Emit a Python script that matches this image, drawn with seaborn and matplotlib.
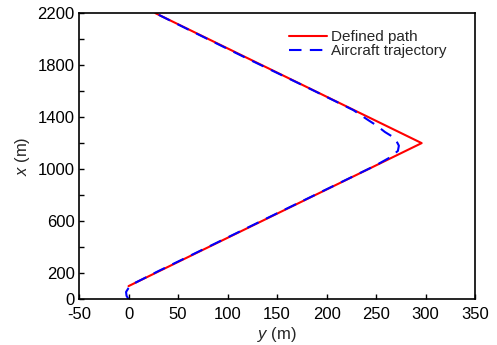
import matplotlib
matplotlib.use("Agg")
import matplotlib.pyplot as plt
import seaborn as sns
import pandas as pd

# Defined path (y horizontal, x vertical)
path_y = [0, 296, 27]
path_x = [100, 1200, 2200]

# Aircraft trajectory
traj_y = [0, -2, -2.5, 0, 4, 30, 80, 150, 200, 250, 264, 272, 273, 269, 259, 250, 242, 227, 180, 120, 60, 27]
traj_x = [0, 25, 55, 85, 115, 215, 400, 660, 845, 1030, 1090, 1140, 1180, 1238, 1285, 1338, 1377, 1454, 1630, 1850, 2075, 2200]

xticks = [-50, 0, 50, 100, 150, 200, 250, 300, 350]
yticks = list(range(0, 2201, 200))
ylabels_shown = [0, 200, 600, 1000, 1400, 1800, 2200]

sns.set_style("ticks")
plt.rcParams['font.family'] = ['Liberation Sans', 'DejaVu Sans']
plt.rcParams['mathtext.fontset'] = 'custom'
plt.rcParams['mathtext.it'] = 'Liberation Sans:italic'
plt.rcParams['mathtext.rm'] = 'Liberation Sans'

fig = plt.figure(figsize=(4.97, 3.45), dpi=100)
ax = fig.add_axes([0.159, 0.133, 0.797, 0.829])

df_path = pd.DataFrame({"y": path_y, "x": path_x})
df_traj = pd.DataFrame({"y": traj_y, "x": traj_x})

sns.lineplot(data=df_path, x="y", y="x", sort=False, estimator=None, color="red", lw=1.5,
             ax=ax, label="Defined path")
sns.lineplot(data=df_traj, x="y", y="x", sort=False, estimator=None, color="blue", lw=1.5,
             ax=ax, label="Aircraft trajectory")
ax.lines[1].set_dashes([6, 4])

ax.set_xlim(-50, 350)
ax.set_ylim(0, 2200)
ax.set_xticks(xticks)
ax.set_xticklabels([str(t) for t in xticks])
ax.set_yticks(yticks)
ax.set_yticklabels([str(t) if t in ylabels_shown else "" for t in yticks])
ax.tick_params(direction="in", length=3.5, width=1, labelsize=12, colors="black", pad=3)
ax.tick_params(axis="x", pad=5.5)
for s in ax.spines.values():
    s.set_linewidth(1.2)
    s.set_color("black")

ax.set_xlabel("$y$ (m)", fontsize=12, labelpad=2.5)
ax.set_ylabel("$x$ (m)", fontsize=12, labelpad=4)

handles, labels = ax.get_legend_handles_labels()
handles[1].set_dashes([6, 4])
leg = ax.legend(handles, labels, loc="upper left", bbox_to_anchor=(0.53, 0.94), frameon=False,
                fontsize=11, handlelength=2.5, handletextpad=0.25, borderaxespad=0,
                labelspacing=0.0, borderpad=0)

fig.savefig("out.png", dpi=100)
